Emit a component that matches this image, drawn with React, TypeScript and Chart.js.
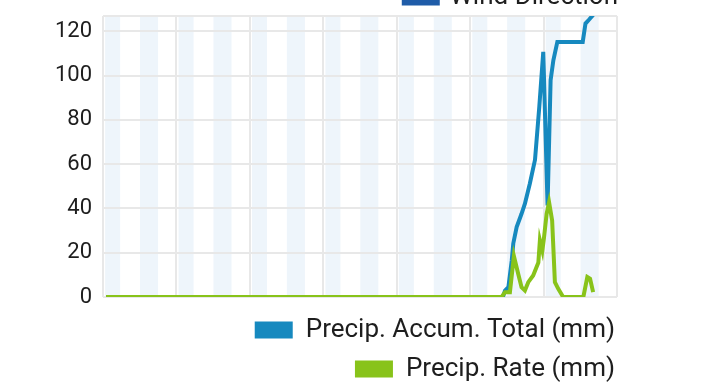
import React, { useEffect, useRef } from "react";
import { Chart, registerables } from "chart.js";

Chart.register(...registerables);

// ---- data (hours from start of the 7-day window) ----
const accumLabel = "Precip. Accum. Total (mm)";
const rateLabel = "Precip. Rate (mm)";
const windLabel = "Wind Direction";

const accumHours = [1, 130.7, 131.4, 132.5, 133.6, 134.1, 135.2, 136.8, 137.9, 139.5, 141.2, 142.6, 143.9, 145.3, 146.3, 147.2, 148.5, 156.8, 157.7, 158.9, 160.2];
const accumValues = [0, 0, 2.9, 4.4, 16.5, 24.2, 31.6, 37.6, 42.2, 51.2, 62, 85.9, 110.8, 41.4, 98, 107, 115.3, 115.3, 123.6, 125.4, 127.5];

const rateHours = [1, 130.3, 131.4, 133.0, 134.3, 135.7, 136.8, 137.9, 139.0, 140.6, 142.3, 142.8, 143.6, 144.1, 145.0, 145.8, 146.8, 147.7, 148.8, 150.4, 157.0, 158.3, 159.2, 160.2];
const rateValues = [0, 0, 2.2, 2.2, 18.5, 10.5, 4.4, 2.9, 6.7, 9.7, 15.6, 25.6, 21, 26.3, 37.6, 42.8, 34.6, 6.7, 3.7, 0, 0, 9, 8.2, 2.2];

const yTickValues = [0, 20, 40, 60, 80, 100, 120];
const yMax = 127;
const xDays = [0, 1, 2, 3, 4, 5, 6, 7];
const bandStarts = [0.7, 12.1]; // shaded periods inside each day (hours)
const bandEnds = [5.6, 18.0];

const accumColor = "#1689bf";
const rateColor = "#88c31a";
const windColor = "#1f5ca8";
const bandColor = "#eef5fb";
const gridColor = "#e8e8e8";
const textColor = "#1e1e1e";
const FONT = "Roboto";

const bandsPlugin = {
  id: "bands",
  beforeDraw(chart: any) {
    const { ctx, chartArea, scales } = chart;
    const x = scales.x;
    ctx.save();
    ctx.fillStyle = bandColor;
    for (let d = 0; d < xDays.length - 1; d++) {
      for (let b = 0; b < bandStarts.length; b++) {
        const x0 = x.getPixelForValue(xDays[d] * 24 + bandStarts[b]);
        const x1 = x.getPixelForValue(xDays[d] * 24 + bandEnds[b]);
        ctx.fillRect(x0, chartArea.top, x1 - x0, chartArea.bottom - chartArea.top);
      }
    }
    ctx.restore();
  },
};

const topLegendPlugin = {
  id: "topLegend",
  afterDraw(chart: any) {
    const { ctx, chartArea } = chart;
    ctx.save();
    ctx.font = `26px ${FONT}`;
    ctx.textBaseline = "middle";
    ctx.textAlign = "left";
    const w = ctx.measureText(windLabel).width;
    const tx = chartArea.right + 1 - w;
    const cy = -3;
    ctx.fillStyle = windColor;
    ctx.fillRect(tx - 48, cy - 8.5, 38, 17);
    ctx.fillStyle = textColor;
    ctx.fillText(windLabel, tx, cy);
    ctx.restore();
  },
};

export default function App() {
  const ref = useRef<HTMLCanvasElement | null>(null);

  useEffect(() => {
    if (!ref.current) return;
    const chart = new Chart(ref.current, {
      type: "line",
      data: {
        datasets: [
          {
            label: accumLabel,
            data: accumHours.map((h, i) => ({ x: h, y: accumValues[i] })),
            borderColor: accumColor,
            backgroundColor: accumColor,
            borderWidth: 4,
            pointRadius: 0,
            tension: 0,
            order: 1,
          },
          {
            label: rateLabel,
            data: rateHours.map((h, i) => ({ x: h, y: rateValues[i] })),
            borderColor: rateColor,
            backgroundColor: rateColor,
            borderWidth: 4,
            pointRadius: 0,
            tension: 0,
            order: 0,
          },
        ],
      },
      options: {
        responsive: false,
        animation: false,
        events: [],
        layout: { padding: { top: 16, right: 92, left: 0, bottom: 0 } },
        scales: {
          x: {
            type: "linear",
            min: 0,
            max: 168,
            afterBuildTicks: (s: any) => {
              s.ticks = xDays.map((d) => ({ value: d * 24 }));
            },
            afterFit: (s: any) => {
              s.height = 7;
              s.paddingLeft = 0;
              s.paddingRight = 0;
            },
            ticks: { display: false },
            grid: { color: gridColor, lineWidth: 2, drawTicks: false },
            border: { display: false },
          },
          y: {
            min: 0,
            max: yMax,
            afterBuildTicks: (s: any) => {
              s.ticks = [...yTickValues, yMax].map((v) => ({ value: v }));
            },
            afterFit: (s: any) => {
              s.width = 103;
              s.paddingTop = 0;
              s.paddingBottom = 0;
            },
            ticks: {
              padding: 11,
              color: textColor,
              font: { family: FONT, size: 22 },
              callback: (v: any) => (yTickValues.includes(Number(v)) ? String(v) : ""),
            },
            grid: { color: gridColor, lineWidth: 2, drawTicks: false },
            border: { display: false },
          },
          yR: {
            position: "right",
            display: true,
            ticks: { display: false },
            grid: { display: false, drawTicks: false },
            border: { display: false },
            afterFit: (s: any) => {
              s.width = 11;
              s.paddingTop = 0;
              s.paddingBottom = 0;
            },
          },
        },
        plugins: {
          tooltip: { enabled: false },
          legend: {
            position: "bottom",
            align: "end",
            labels: {
              boxWidth: 38,
              boxHeight: 17,
              padding: 13,
              color: textColor,
              font: { family: FONT, size: 26 },
              sort: (a: any, b: any) => a.datasetIndex - b.datasetIndex,
              generateLabels: (c: any) =>
                Chart.defaults.plugins.legend.labels
                  .generateLabels(c)
                  .map((l: any) => ({ ...l, lineWidth: 0 })),
            },
          },
        },
      },
      plugins: [bandsPlugin, topLegendPlugin],
    });
    return () => chart.destroy();
  }, []);

  return (
    <div
      style={{
        position: "fixed",
        left: 0,
        top: 0,
        width: 720,
        height: 387,
        overflow: "hidden",
        background: "#ffffff",
      }}
    >
      <canvas ref={ref} width={720} height={392} style={{ display: "block" }} />
    </div>
  );
}
